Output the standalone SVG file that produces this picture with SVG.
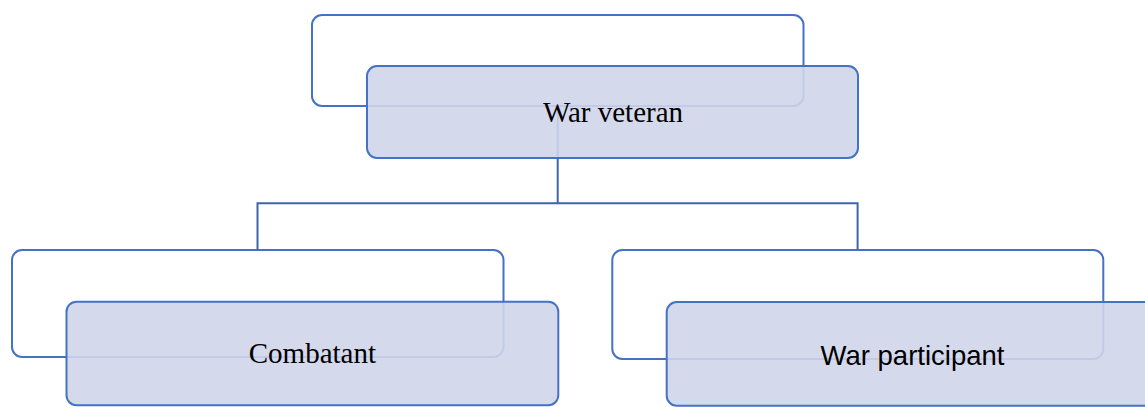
<svg xmlns="http://www.w3.org/2000/svg" width="1145" height="407" viewBox="0 0 1145 407">
  <style>
    .back { fill: #FFFFFF; stroke: #4472C4; stroke-width: 2; }
    .front { fill: #CFD5EA; fill-opacity: 0.9; stroke: #4472C4; stroke-width: 2; }
    .conn { fill: none; stroke: #3E64AD; stroke-width: 2; }
    .serif { font-family: "Liberation Serif", "Times New Roman", serif; font-size: 29px; fill: #000000; text-anchor: middle; }
    .sans { font-family: "Liberation Sans", Arial, sans-serif; font-size: 27.5px; fill: #000000; text-anchor: middle; }
  </style>
  <rect width="1145" height="407" fill="#FFFFFF"/>
  <g id="top-back"><rect class="back" x="312" y="15" width="491.5" height="91" rx="10"/></g>
  <g id="left-back"><rect class="back" x="12" y="250" width="491.5" height="107" rx="10"/></g>
  <g id="right-back"><rect class="back" x="612.3" y="250" width="491" height="109" rx="10"/></g>
  <g id="connectors">
    <path class="conn" d="M557.7,106 V203.3"/>
    <path class="conn" d="M257.5,250 V203.3 H857.6 V250"/>
  </g>
  <g id="war-veteran">
    <rect class="front" x="367" y="66" width="491" height="92" rx="10"/>
    <text class="serif" x="613" y="121.7">War veteran</text>
  </g>
  <g id="combatant">
    <rect class="front" x="66.5" y="301.7" width="491.8" height="103.5" rx="10"/>
    <text class="serif" x="312.4" y="363">Combatant</text>
  </g>
  <g id="war-participant">
    <rect class="front" x="666.7" y="302" width="491.5" height="103.7" rx="10"/>
    <text class="sans" x="912.5" y="365">War participant</text>
  </g>
</svg>
